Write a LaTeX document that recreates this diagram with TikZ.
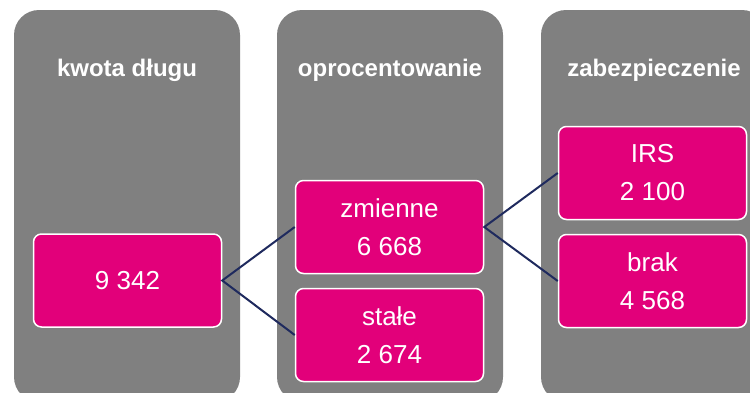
\documentclass[tikz,border=0pt]{standalone}
\usepackage{fontspec}
\setmainfont{Liberation Sans}
\definecolor{kolumna}{HTML}{808080}
\definecolor{tpink}{HTML}{E2007A}
\definecolor{granat}{HTML}{1F2A5E}
\begin{document}
\begin{tikzpicture}[x=1pt,y=-1pt,
  kolumna/.style={fill=kolumna,rounded corners=25pt},
  tytul/.style={text=white,anchor=base,font=\bfseries\fontsize{24pt}{28pt}\selectfont},
  pole/.style={fill=tpink,draw=white,line width=1.5pt,rounded corners=8pt,text=white,
    minimum width=188pt,minimum height=93pt,align=center,inner sep=0pt,
    font=\fontsize{26pt}{38pt}\selectfont},
  link/.style={draw=granat,line width=2pt}]
\useasboundingbox (0,0) rectangle (750,392);
\clip (0,0) rectangle (750,392);
\fill[kolumna] (14,10) rectangle (240,402);
\fill[kolumna] (277,10) rectangle (503,402);
\fill[kolumna] (541,10) rectangle (767,402);
\node[tytul] (kwota) at (127,76) {kwota długu};
\node[tytul] (oproc) at (390,76) {oprocentowanie};
\node[tytul] (zabez) at (654,76) {zabezpieczenie};
% wartosci
\node[pole] (suma) at (127.5,280.5) {9 342};
\node[pole] (zmienne) at (389.5,227) {zmienne\\6 668};
\node[pole] (stale) at (389.5,335) {stałe\\2 674};
\node[pole] (irs) at (652.5,173) {IRS\\2 100};
\node[pole] (brak) at (652.5,281) {brak\\4 568};
\draw[link] (zmienne.west) -- (suma.east) -- (stale.west);
\draw[link] (irs.west) -- (zmienne.east) -- (brak.west);
\end{tikzpicture}
\end{document}
